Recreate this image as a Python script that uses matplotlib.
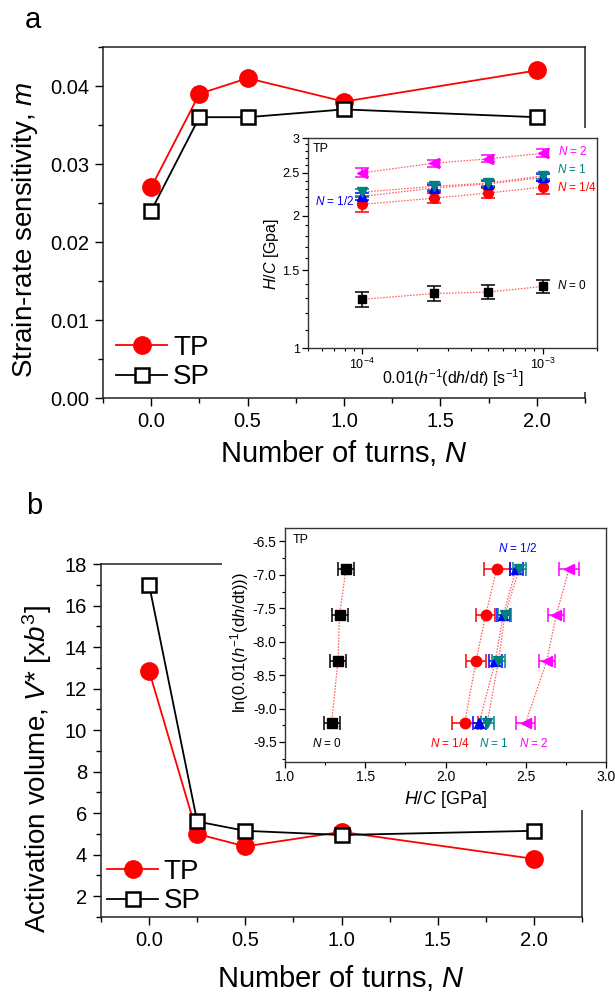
import matplotlib
matplotlib.use('Agg')
import matplotlib.pyplot as plt
import numpy as np
from matplotlib.patches import Rectangle
from matplotlib.ticker import (MultipleLocator, FixedLocator, FixedFormatter, NullFormatter,
                               FormatStrFormatter, LogLocator)

plt.rcParams['font.family'] = ['Liberation Sans', 'DejaVu Sans']
plt.rcParams['mathtext.fontset'] = 'custom'
plt.rcParams['mathtext.rm'] = 'Liberation Sans'
plt.rcParams['mathtext.it'] = 'Liberation Sans:italic'
plt.rcParams['mathtext.bf'] = 'Liberation Sans:bold'
plt.rcParams['axes.unicode_minus'] = False

# ---------------- data ----------------
turns = [0.0, 0.25, 0.5, 1.0, 2.0]
m_tp = [0.027, 0.039, 0.041, 0.038, 0.042]
m_sp = [0.024, 0.036, 0.036, 0.037, 0.036]
v_tp = [12.85, 5.0, 4.4, 5.1, 3.8]
v_sp = [17.0, 5.6, 5.15, 4.95, 5.15]

rates = [1e-4, 2.5e-4, 5e-4, 1e-3]
hc_n0 = [1.29, 1.33, 1.34, 1.38]
hc_n14 = [2.12, 2.19, 2.25, 2.32]
hc_n12 = [2.21, 2.31, 2.36, 2.44]
hc_n1 = [2.26, 2.33, 2.37, 2.46]
hc_n2 = [2.50, 2.63, 2.69, 2.77]
err_n0 = [0.05, 0.05, 0.05, 0.05]
err_n14 = [0.08, 0.06, 0.06, 0.08]
err_n12 = [0.04, 0.04, 0.04, 0.04]
err_n1 = [0.04, 0.04, 0.04, 0.04]
err_n2 = [0.06, 0.05, 0.05, 0.06]

series_labels = ['N = 0', 'N = 1/4', 'N = 1/2', 'N = 1', 'N = 2']
colors = ['black', '#ff0000', '#0000ff', '#008080', '#ff00ff']
markers = ['s', 'o', '^', 'v', '<']

W, H = 615, 994
fig = plt.figure(figsize=(W / 100, H / 100), dpi=100)


def box(x0, y0, x1, y1):
    return [x0 / W, 1 - y1 / H, (x1 - x0) / W, (y1 - y0) / H]


axA = fig.add_axes(box(103, 47, 585, 398), zorder=0)
axB = fig.add_axes(box(101, 564, 582, 917), zorder=0)
insA = fig.add_axes(box(308, 138, 597, 348), zorder=2)
insB = fig.add_axes(box(285, 528, 606, 762), zorder=2)

# white backgrounds behind insets (covering main frames)
fig.add_artist(Rectangle((262 / W, 1 - 392 / H), (612 - 262) / W, (392 - 128) / H,
                         transform=fig.transFigure, facecolor='white', edgecolor='none', zorder=1))
fig.add_artist(Rectangle((222 / W, 1 - 810 / H), (612 - 222) / W, (810 - 518) / H,
                         transform=fig.transFigure, facecolor='white', edgecolor='none', zorder=1))

# ---------------- main panels ----------------
for ax, tp, sp, anchor in [(axA, m_tp, m_sp, (0.004, -0.01)), (axB, v_tp, v_sp, (-0.011, -0.024))]:
    ax.plot(turns, tp, color='red', lw=1.3, marker='o', ms=12.5, mfc='red', mec='red', label='TP')
    ax.plot(turns, sp, color='black', lw=1.3, marker='s', ms=10.5, mfc='white', mec='black', mew=1.8, label='SP')
    ax.set_xlim(-0.25, 2.25)
    ax.xaxis.set_major_locator(MultipleLocator(0.5))
    ax.xaxis.set_minor_locator(MultipleLocator(0.25))
    ax.xaxis.set_major_formatter(FormatStrFormatter('%.1f'))
    ax.tick_params(which='major', direction='out', length=6, width=1.0, labelsize=14.5, pad=4)
    ax.tick_params(which='minor', direction='out', length=3.5, width=1.0)
    for s in ax.spines.values():
        s.set_linewidth(1.1)
        s.set_color('#222222')
    ax.legend(loc='lower left', frameon=False, fontsize=20, handlelength=1.85,
              handletextpad=0.2, labelspacing=0.13, borderaxespad=0.0,
              bbox_to_anchor=anchor)

axA.set_ylim(0, 0.045)
axA.yaxis.set_major_locator(MultipleLocator(0.01))
axA.yaxis.set_minor_locator(MultipleLocator(0.005))
axA.yaxis.set_major_formatter(FormatStrFormatter('%.2f'))
axA.set_xlabel('Number of turns, $N$', fontsize=21)
axA.xaxis.set_label_coords(0.5, -0.157)
axA.xaxis.label.set_va('center')
axA.set_ylabel('Strain-rate sensitivity, $m$', fontsize=20, va='center')
axA.yaxis.set_label_coords(-0.162, 0.48)

axB.set_ylim(1, 18)
axB.yaxis.set_major_locator(MultipleLocator(2))
axB.yaxis.set_minor_locator(MultipleLocator(1))
axB.set_xlabel('Number of turns, $N$', fontsize=21)
axB.xaxis.set_label_coords(0.5, -0.173)
axB.xaxis.label.set_va('center')
axB.set_ylabel('Activation volume, $V$* [x$b^3$]', fontsize=20, va='center')
axB.yaxis.set_label_coords(-0.132, 0.42)

fig.text(33 / W, 1 - 20 / H, 'a', fontsize=21, ha='center', va='center')
fig.text(34 / W, 1 - 506 / H, 'b', fontsize=21, ha='center', va='center')

# ---------------- inset a ----------------
all_hc = [hc_n0, hc_n14, hc_n12, hc_n1, hc_n2]
all_err = [err_n0, err_n14, err_n12, err_n1, err_n2]
msizes = [6, 7, 6.5, 6.5, 7]

insA.set_facecolor('white')
for hc, er, c, mk, ms in zip(all_hc, all_err, colors, markers, msizes):
    insA.plot(rates, hc, ls=(0, (1.2, 1.2)), color='#ff5a5a', lw=0.9, zorder=2)
    insA.errorbar(rates, hc, yerr=er, fmt=mk, color=c, ms=ms, capsize=5, elinewidth=1.1,
                  capthick=1.1, zorder=3)
insA.set_xscale('log')
insA.set_yscale('log')
insA.set_xlim(5e-5, 2e-3)
insA.set_ylim(1, 3)
insA.yaxis.set_major_locator(FixedLocator([1, 1.5, 2, 2.5, 3]))
insA.yaxis.set_major_formatter(FixedFormatter(['1', '1.5', '2', '2.5', '3']))
insA.yaxis.set_minor_locator(FixedLocator(np.arange(1.1, 3.0, 0.1)))
insA.yaxis.set_minor_formatter(NullFormatter())
insA.xaxis.set_major_locator(LogLocator(base=10))
insA.xaxis.set_minor_locator(LogLocator(base=10, subs=np.arange(2, 10)))
insA.xaxis.set_minor_formatter(NullFormatter())
insA.tick_params(which='major', direction='out', length=4, width=0.9, labelsize=9, pad=2)
insA.tick_params(which='minor', direction='out', length=2, width=0.8)
for s in insA.spines.values():
    s.set_linewidth(1.0)
    s.set_color('#333333')
insA.set_xlabel('0.01($h^{-1}$(d$h$/d$t$) [s$^{-1}$]', fontsize=11.5)
insA.xaxis.set_label_coords(0.5, -0.143)
insA.xaxis.label.set_va('center')
insA.set_ylabel('$H/C$ [Gpa]', fontsize=11.5)
insA.yaxis.set_label_coords(-0.128, 0.45)
insA.yaxis.label.set_va('center')
insA.text(0.015, 0.975, 'TP', transform=insA.transAxes, ha='left', va='top', fontsize=9)
insA.text(1.21e-3, 2.79, '$N$ = 2', color=colors[4], fontsize=8.5, ha='left', va='center')
insA.text(1.2e-3, 2.54, '$N$ = 1', color=colors[3], fontsize=8.5, ha='left', va='center')
insA.text(1.2e-3, 2.32, '$N$ = 1/4', color=colors[1], fontsize=8.5, ha='left', va='center')
insA.text(5.5e-5, 2.15, '$N$ = 1/2', color=colors[2], fontsize=8.5, ha='left', va='center')
insA.text(1.2e-3, 1.39, '$N$ = 0', color=colors[0], fontsize=8.5, ha='left', va='center')

# ---------------- inset b ----------------
ln_rates = np.log(rates)
insB.set_facecolor('white')
for hc, er, c, mk, ms in zip(all_hc, all_err, colors, markers, msizes):
    insB.plot(hc, ln_rates, ls=(0, (1.2, 1.2)), color='#ff5a5a', lw=0.9, zorder=2)
    insB.errorbar(hc, ln_rates, xerr=er, fmt=mk, color=c, ms=ms + 0.5, capsize=5, elinewidth=1.1,
                  capthick=1.1, zorder=3)
insB.set_xlim(1.0, 3.0)
insB.set_ylim(-9.8, -6.3)
insB.xaxis.set_major_locator(MultipleLocator(0.5))
insB.xaxis.set_minor_locator(MultipleLocator(0.25))
insB.xaxis.set_major_formatter(FormatStrFormatter('%.1f'))
insB.yaxis.set_major_locator(MultipleLocator(0.5))
insB.yaxis.set_minor_locator(MultipleLocator(0.25))
insB.yaxis.set_major_formatter(FormatStrFormatter('%.1f'))
insB.tick_params(which='major', direction='out', length=4, width=0.9, labelsize=10, pad=2)
insB.tick_params(which='minor', direction='out', length=2, width=0.8)
for s in insB.spines.values():
    s.set_linewidth(1.0)
    s.set_color('#333333')
insB.set_xlabel('$H/C$ [GPa]', fontsize=13)
insB.xaxis.set_label_coords(0.5, -0.162)
insB.xaxis.label.set_va('center')
insB.set_ylabel('ln(0.01($h^{-1}$(d$h$/dt)))', fontsize=12)
insB.yaxis.set_label_coords(-0.143, 0.51)
insB.yaxis.label.set_va('center')
insB.text(0.025, 0.975, 'TP', transform=insB.transAxes, ha='left', va='top', fontsize=9)
insB.text(2.45, -6.6, '$N$ = 1/2', color=colors[2], fontsize=8.5, ha='center', va='center')
insB.text(1.26, -9.53, '$N$ = 0', color=colors[0], fontsize=8.5, ha='center', va='center')
insB.text(2.03, -9.53, '$N$ = 1/4', color=colors[1], fontsize=8.5, ha='center', va='center')
insB.text(2.30, -9.53, '$N$ = 1', color=colors[3], fontsize=8.5, ha='center', va='center')
insB.text(2.55, -9.53, '$N$ = 2', color=colors[4], fontsize=8.5, ha='center', va='center')

fig.savefig('out.png', dpi=100)
